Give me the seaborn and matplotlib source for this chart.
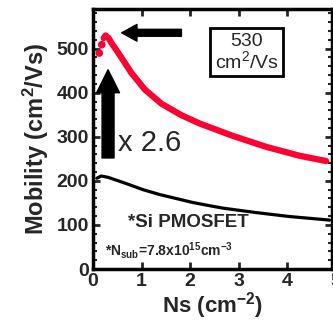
import matplotlib
matplotlib.use("Agg")
import matplotlib.pyplot as plt
import seaborn as sns
import pandas as pd
from matplotlib.ticker import MultipleLocator

# ---- data ----
ns_red_dots = [0.13, 0.18]
mu_red_dots = [490, 509]
ns_red = [0.22, 0.26, 0.32, 0.38, 0.48, 0.59, 0.79, 1.07, 1.41, 1.82, 2.2, 2.88, 3.57, 4.25, 4.8]
mu_red = [524, 530, 524, 513, 497, 479, 445, 407, 375, 349, 330, 302, 277, 257, 245]
ns_blk = [0.08, 0.17, 0.31, 0.68, 1.03, 1.37, 1.71, 2.05, 2.43, 2.68, 3.36, 4.05, 4.87]
mu_blk = [206, 211, 208, 194, 180, 169, 160, 151, 143, 138, 128, 119, 111]
x_ticks = [0, 1, 2, 3, 4]
y_ticks = [0, 100, 200, 300, 400, 500]

RED = "#FF0033"

sns.set_theme(style="ticks")
plt.rcParams["font.family"] = ["Liberation Sans", "DejaVu Sans"]
plt.rcParams["mathtext.fontset"] = "custom"
plt.rcParams["mathtext.rm"] = "Liberation Sans"
plt.rcParams["mathtext.bf"] = "Liberation Sans:bold"
plt.rcParams["mathtext.it"] = "Liberation Sans:italic"

fig = plt.figure(figsize=(3.33, 3.22), dpi=100)
ax = fig.add_axes([93/333, 1 - 269/322, (332 - 93)/333, (269 - 9)/322])

df_red = pd.DataFrame({"Ns": ns_red, "mu": mu_red})
df_blk = pd.DataFrame({"Ns": ns_blk, "mu": mu_blk})
df_dots = pd.DataFrame({"Ns": ns_red_dots, "mu": mu_red_dots})

sns.lineplot(data=df_blk, x="Ns", y="mu", color="black", linewidth=2.3, ax=ax,
             solid_capstyle="round")
sns.lineplot(data=df_red, x="Ns", y="mu", color=RED, linewidth=4.5, ax=ax,
             solid_capstyle="round")
sns.scatterplot(data=df_dots, x="Ns", y="mu", color=RED, s=30, edgecolor="none", ax=ax)

ax.set_xlim(0, 4.92)
ax.set_ylim(0, 590)
ax.set_xticks(x_ticks)
ax.set_yticks(y_ticks)
ax.yaxis.set_minor_locator(MultipleLocator(20))
ax.tick_params(axis="both", which="major", direction="in", length=5, width=2,
               top=True, right=True, labelsize=14, pad=3)
ax.tick_params(axis="y", which="minor", direction="in", length=3, width=1.5,
               left=True, right=True)
for lab in ax.get_xticklabels() + ax.get_yticklabels():
    lab.set_fontweight("bold")
for sp in ax.spines.values():
    sp.set_linewidth(2.5)
    sp.set_color("black")

# partially visible "5" label at right edge, aligned with the other tick labels
fig.canvas.draw()
lbl0 = ax.get_xticklabels()[0]
x0, y0 = lbl0.get_position()
ax.text(5.0, y0, "5", transform=lbl0.get_transform(), ha=lbl0.get_ha(), va=lbl0.get_va(),
        fontsize=14, fontweight="bold", clip_on=False)

ax.set_xlabel(r"Ns (cm$^{\mathbf{-2}}$)", fontsize=16, fontweight="bold", labelpad=0)
ax.set_ylabel(r"Mobility (cm$^{\mathbf{2}}$/Vs)", fontsize=17, fontweight="bold", labelpad=4)

# arrows
ax.annotate("", xy=(0.59, 536), xytext=(1.82, 536),
            arrowprops=dict(arrowstyle="simple,head_width=12,head_length=11,tail_width=5",
                            mutation_scale=1, color="black", shrinkA=0, shrinkB=0))
ax.annotate("", xy=(0.31, 452), xytext=(0.31, 252),
            arrowprops=dict(arrowstyle="simple,head_width=16.5,head_length=16.5,tail_width=8.6",
                            mutation_scale=1, color="black", shrinkA=0, shrinkB=0))

ax.text(0.51, 286, "x 2.6", fontsize=21, ha="left", va="center")
ax.text(3.16, 492, "530\ncm$^2$/Vs", fontsize=14, ha="center", va="center",
        linespacing=1.0,
        bbox=dict(boxstyle="square,pad=0.22", facecolor="white", edgecolor="black", linewidth=2))
ax.text(0.72, 105, "*Si PMOSFET", fontsize=13.5, fontweight="bold", ha="left", va="center")
ax.text(0.25, 43, r"*N$_{\mathbf{sub}}$=7.8x10$^{\mathbf{15}}$cm$^{\mathbf{-3}}$",
        fontsize=10, fontweight="bold", ha="left", va="center")

fig.savefig("out.png", dpi=100)
